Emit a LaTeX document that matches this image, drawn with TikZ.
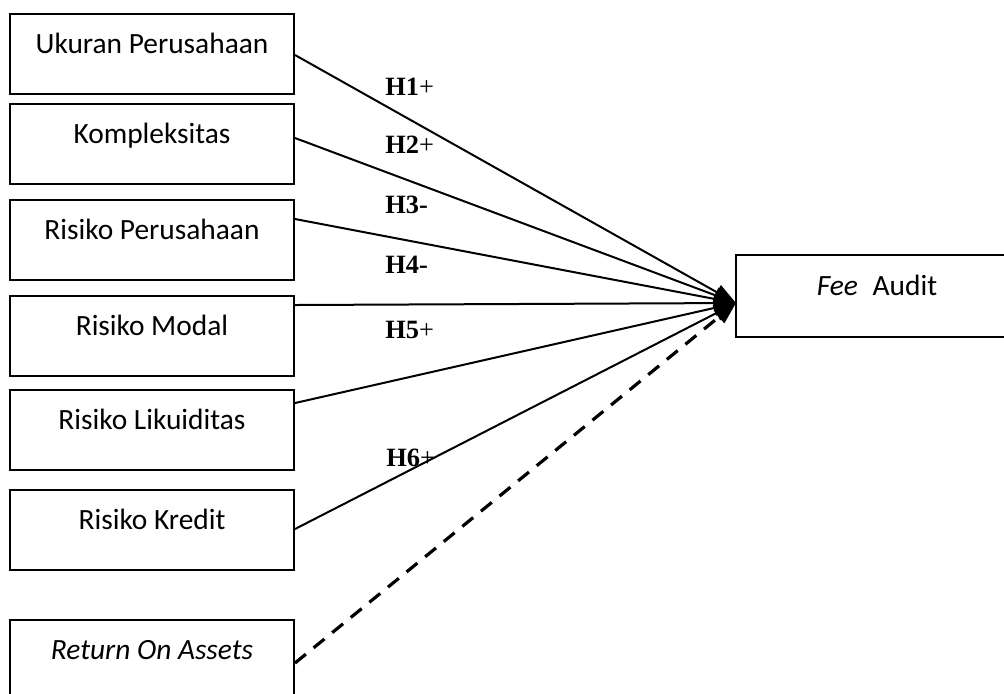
\documentclass[tikz,border=0pt]{standalone}
\usepackage{fontspec}
\setmainfont{Carlito}
\newfontfamily\tnr{Liberation Serif}
\usetikzlibrary{arrows.meta,calc}
\tikzset{
  box/.style={draw, line width=1pt, anchor=north west, minimum width=142pt,
    inner xsep=0pt, inner ysep=0pt, text height=19.5pt, text depth=20.5pt,
    font=\fontsize{14.7}{17}\selectfont},
  hyp/.style={line width=1pt, -{Triangle[length=11pt,width=8pt]}},
  dhyp/.style={line width=1.6pt, dash pattern=on 7pt off 5pt, -{Triangle[length=11pt,width=8pt]}},
  hlab/.style={anchor=base west, inner sep=0pt, font=\tnr\fontsize{13.2}{15}\selectfont}
}
\begin{document}
\begin{tikzpicture}[x=0.5pt,y=-0.5pt]
\useasboundingbox (0,0) rectangle (1004,693);
\clip (0,0) rectangle (1004,693);
\node[box] (b1) at (9,13) {Ukuran Perusahaan};
\node[box] (b2) at (9,103) {Kompleksitas};
\node[box] (b3) at (9,199) {Risiko Perusahaan};
\node[box] (b4) at (9,295) {Risiko Modal};
\node[box] (b5) at (9,389) {Risiko Likuiditas};
\node[box] (b6) at (9,489) {Risiko Kredit};
\node[box] (b7) at (9,619) {\textit{Return On Assets}};
\node[box, draw=none, minimum width=140pt] (fee) at (736,255) {\textit{Fee}\hspace{0.5em}Audit};
\draw[line width=1pt] ($(fee.north east)+(40,0)$) -- (fee.north west) -- (fee.south west) -- ($(fee.south east)+(40,0)$);
\coordinate (tip) at ($(fee.west)+(0,7)$);
\draw[hyp] ($(b1.north east)+(0,42)$) -- (tip);
\draw[hyp] ($(b2.north east)+(0,35)$) -- (tip);
\draw[hyp] ($(b3.north east)+(0,20)$) -- (tip);
\draw[hyp] ($(b4.north east)+(0,10)$) -- (tip);
\draw[hyp] ($(b5.north east)+(0,14)$) -- (tip);
\draw[hyp] ($(b6.north east)+(0,40)$) -- (tip);
\draw[dhyp] ($(b7.north east)+(0,44)$) -- (tip);
\node[hlab] (h1) at (385,95) {\textbf{H1}+};
\node[hlab] (h2) at (385,153) {\textbf{H2}+};
\node[hlab] (h3) at (385,213) {\textbf{H3-}};
\node[hlab] (h4) at (385,273) {\textbf{H4-}};
\node[hlab] (h5) at (385,338) {\textbf{H5}+};
\node[hlab] (h6) at (386,466) {\textbf{H6}+};
\end{tikzpicture}
\end{document}
